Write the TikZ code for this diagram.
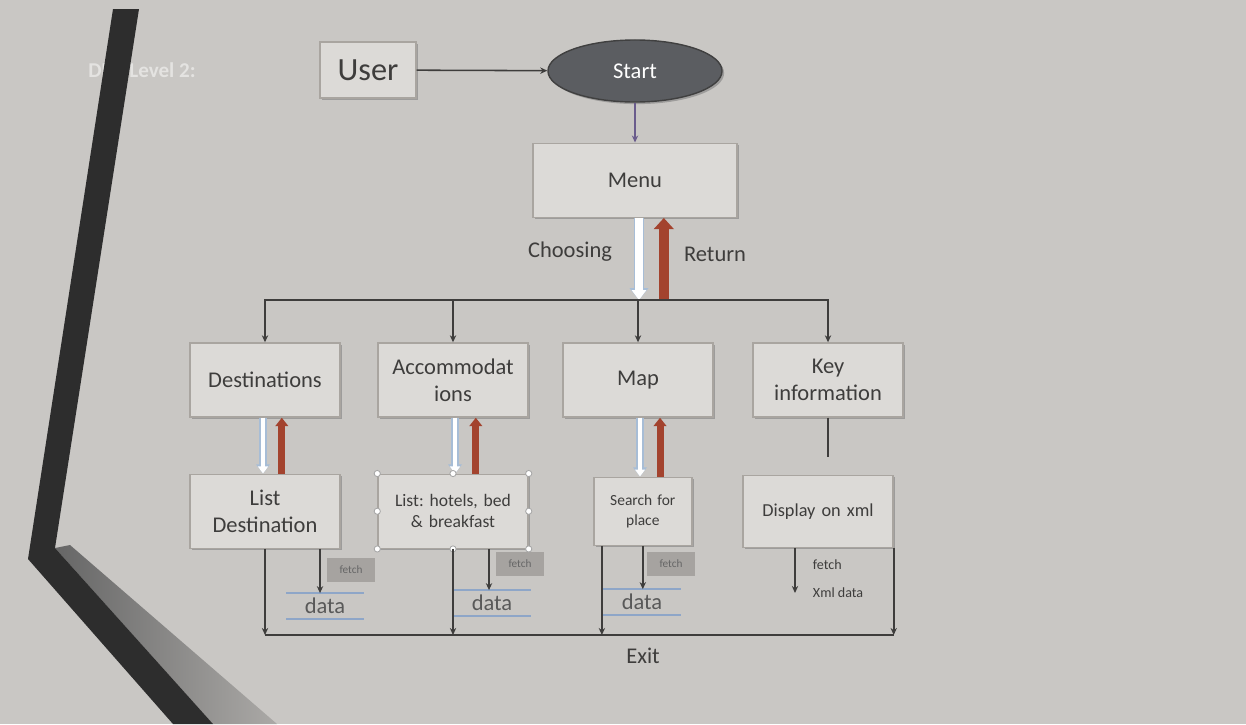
\documentclass[tikz,border=0pt]{standalone}
\usepackage{fontspec}
\setmainfont{Carlito}
\usepackage{tikz}
\usetikzlibrary{shapes,arrows.meta,shadows}
\frenchspacing
\definecolor{slide}{HTML}{C9C7C4}
\definecolor{boxfill}{HTML}{DCDAD7}
\definecolor{boxline}{HTML}{A9A5A0}
\definecolor{ink}{HTML}{3E3D3C}
\definecolor{retred}{HTML}{A3432E}
\definecolor{paleblue}{HTML}{A7BDD6}
\definecolor{storeblue}{HTML}{8EA6C8}
\definecolor{darkbar}{HTML}{2D2D2D}
\definecolor{startfill}{HTML}{5B5D61}
\definecolor{startline}{HTML}{6A5C8C}
\definecolor{tagfill}{HTML}{A6A3A0}
\tikzstyle{boxshadow} = [drop shadow={shadow xshift=1.5pt, shadow yshift=-1.5pt, fill=black!55, opacity=0.5}]
\tikzstyle{entity} = [rectangle, minimum width=2.4cm, minimum height=1.4cm, draw=boxline, line width=1pt, fill=boxfill, text=ink, font=\fontsize{23}{25}\selectfont, boxshadow]
\tikzstyle{terminal} = [ellipse, minimum width=4.35cm, minimum height=1.55cm, draw=black!75, line width=1pt, fill=startfill, text=white, font=\fontsize{16}{18}\selectfont, boxshadow]
\tikzstyle{process} = [rectangle, text width=3.5cm, minimum width=3.75cm, minimum height=1.85cm, text centered, draw=boxline, line width=1pt, fill=boxfill, text=ink, font=\fontsize{16}{19}\selectfont, boxshadow]
\tikzstyle{fetchtag} = [rectangle, fill=tagfill, text=black!60, minimum width=1.2cm, minimum height=0.62cm, font=\fontsize{8}{9}\selectfont]
\tikzstyle{datastore} = [minimum width=1.92cm, minimum height=0.62cm, text=black!65, font=\fontsize{16}{18}\selectfont]
\tikzstyle{storeline} = [draw=storeblue, line width=1.1pt]
\tikzstyle{flowtext} = [text=ink, font=\fontsize{16}{18}\selectfont]
\tikzstyle{link} = [draw=ink, line width=1.3pt]
\tikzstyle{choosing} = [line width=5.5pt, white, -{Triangle[length=7pt,width=10pt]}, preaction={draw=paleblue, line width=7.5pt, -{Triangle[length=8.5pt,width=13pt]}}]
\tikzstyle{returning} = [line width=7pt, retred, -{Triangle[length=8pt,width=14pt]}]
\tikzstyle{choosingsmall} = [line width=3.5pt, white, -{Triangle[length=5pt,width=7pt]}, preaction={draw=paleblue, line width=5.5pt, -{Triangle[length=6.5pt,width=9.5pt]}}]
\tikzstyle{returningsmall} = [line width=5pt, retred, -{Triangle[length=6pt,width=9pt]}]
\tikzstyle{selhandle} = [draw=black!35, fill=white, line width=0.6pt]

\begin{document}
\begin{tikzpicture}[x=0.025cm, y=-0.025cm, node distance=3.28cm, >={Stealth[length=5pt,width=4.5pt]}]

    % slide
    \fill[slide] (0,0) rectangle (1246,724);
    \useasboundingbox (0,0) rectangle (1246,724);
    \node[text=white!50!slide, font=\fontsize{15}{17}\selectfont\bfseries] at (142,70) {DFD Level 2:};
    \shade[left color=black!60, right color=slide!85!black] (55,548) -- (70,545) -- (277,724) -- (213,724) -- cycle;
    \fill[darkbar] (113,9) -- (139,9) -- (55,548) -- (213,724) -- (173,724) -- (28,559) -- cycle;

    \node(user)[entity] at (368,70) {User};
    \node(start)[terminal] at (635,71) {Start};
    \node(menu)[process, minimum width=5.1cm, text width=4.8cm, below of=start, node distance=2.73cm]{Menu};
    \coordinate(bus) at (638,300);

    \node(dest)[process] at (265,380) {Destinations};
    \node(accom)[process] at (453,380) {Accommodat\\ions};
    \node(map)[process] at (638,380) {Map};
    \node(key)[process] at (828,380) {Key\\information};

    \node(destlist)[process, below of=dest]{List\\Destination};
    \node(hotels)[process, below of=accom, font=\fontsize{12.5}{15}\selectfont]{List: hotels, bed\\\& breakfast};
    \node(search)[process, below of=map, xshift=0.12cm, minimum width=2.45cm, text width=2.2cm, minimum height=1.7cm, font=\fontsize{11}{14}\selectfont]{Search for\\place};
    \node(disp)[process, below of=key, xshift=-0.25cm, minimum height=1.8cm, font=\fontsize{13}{15}\selectfont]{Display on xml};

    \node(choosetext)[flowtext] at (570,252) {Choosing};
    \node(returntext)[flowtext] at (715,254) {Return};

    \node(destdata)[datastore] at (325,606) {data};
    \node(destfetch)[fetchtag] at (351,570) {fetch};
    \node(hoteldata)[datastore] at (492,603) {data};
    \node(hotelfetch)[fetchtag] at (520,564) {fetch};
    \node(mapdata)[datastore] at (642,602) {data};
    \node(mapfetch)[fetchtag] at (671,564) {fetch};
    \node(xmlfetch)[anchor=west, text=ink, font=\fontsize{10}{12}\selectfont] at (808,565) {fetch};
    \node(xmldata)[anchor=west, text=ink, font=\fontsize{10}{12}\selectfont] at (808,593) {Xml data};

    \coordinate(exit) at (643,635);
    \node(exittext)[flowtext] at (643,656) {Exit};

    \draw[->, link, line width=1.1pt] (user) -- (start);
    \draw[->, draw=startline, line width=1pt] (start) -- (menu);

    \draw[choosing] ([xshift=0.1cm]menu.south) -- ([xshift=0.1cm]menu.south |- bus);
    \draw[returning] ([xshift=0.72cm]menu.south |- bus) -- ([xshift=0.72cm]menu.south);

    \draw[->, link] (bus) -| (dest);
    \draw[->, link] (bus) -| (accom);
    \draw[->, link] (bus) -- (map);
    \draw[->, link] (bus) -| (key);

    \draw[choosingsmall] ([xshift=-0.05cm]dest.south) -- ([xshift=-0.05cm]destlist.north);
    \draw[returningsmall] ([xshift=0.42cm]destlist.north) -- ([xshift=0.42cm]dest.south);
    \draw[choosingsmall] ([xshift=0.05cm]accom.south) -- ([xshift=0.05cm]hotels.north);
    \draw[returningsmall] ([xshift=0.57cm]hotels.north) -- ([xshift=0.57cm]accom.south);
    \draw[choosingsmall] ([xshift=0.05cm]map.south) -- ([xshift=0.05cm]map.south |- search.north);
    \draw[returningsmall] ([xshift=0.55cm]map.south |- search.north) -- ([xshift=0.55cm]map.south);
    \draw[link] (key.south) -- ([yshift=0.45cm]key.south |- disp.north);

    % selected shape
    \draw[selhandle] (hotels.north west) circle (2.2pt) (hotels.north) circle (2.2pt) (hotels.north east) circle (2.2pt) (hotels.east) circle (2.2pt)
        (hotels.south east) circle (2.2pt) (hotels.south) circle (2.2pt) (hotels.south west) circle (2.2pt) (hotels.west) circle (2.2pt);

    % data stores
    \draw[storeline] (destdata.north west) -- (destdata.north east) (destdata.south west) -- (destdata.south east);
    \draw[storeline] (hoteldata.north west) -- (hoteldata.north east) (hoteldata.south west) -- (hoteldata.south east);
    \draw[storeline] (mapdata.north west) -- (mapdata.north east) (mapdata.south west) -- (mapdata.south east);

    \draw[->, link] ([xshift=1.375cm]destlist.south) -- ([xshift=1.375cm]destlist.south |- destdata.north);
    \draw[->, link] ([xshift=0.9cm]hotels.south) -- ([xshift=0.9cm]hotels.south |- hoteldata.north);
    \draw[->, link] (search.south) -- (search.south |- mapdata.north);
    \draw[->, link] ([xshift=-0.575cm]disp.south) -- ([xshift=-0.575cm]disp.south |- xmldata.west);

    % exit
    \draw[link] (destlist.south |- exit) -- (disp.south east |- exit);
    \draw[->, link] (destlist) -- (destlist.south |- exit);
    \draw[->, link] (hotels) -- (hotels.south |- exit);
    \draw[->, link] ([xshift=0.22cm]search.south west) -- ([xshift=0.22cm]search.south west |- exit);
    \draw[->, link] (disp.south east) -- (disp.south east |- exit);

\end{tikzpicture}
\end{document}
